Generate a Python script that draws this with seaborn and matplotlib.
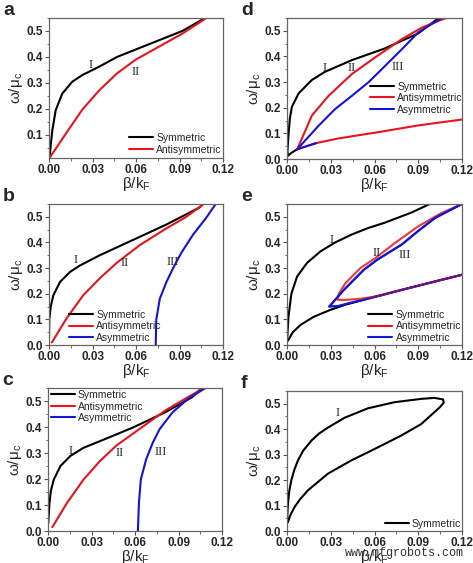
import numpy as np
import pandas as pd
import matplotlib
matplotlib.use("Agg")
import matplotlib.pyplot as plt
from matplotlib.ticker import MultipleLocator, FormatStrFormatter
import seaborn as sns

sns.set_style("ticks")
plt.rcParams['font.family'] = ['Liberation Sans', 'DejaVu Sans']

BLACK = '#000000'
RED = '#e8141c'
BLUE = '#1414d2'

# ---- panel a ----
a_sym_x = [0.0005, 0.0012, 0.0023, 0.0046, 0.0092, 0.016, 0.023, 0.0345, 0.047, 0.0695, 0.092, 0.107]
a_sym_y = [0.015, 0.06, 0.117, 0.194, 0.259, 0.304, 0.33, 0.362, 0.40, 0.45, 0.50, 0.548]
a_anti_x = [0.0007, 0.0115, 0.023, 0.0345, 0.047, 0.060, 0.076, 0.092, 0.108]
a_anti_y = [0.013, 0.103, 0.197, 0.27, 0.337, 0.39, 0.44, 0.49, 0.548]

# ---- panel b ----
b_sym_x = [0.0, 0.0002, 0.0012, 0.003, 0.0076, 0.0145, 0.0213, 0.035, 0.058, 0.081, 0.104, 0.106]
b_sym_y = [0.026, 0.10, 0.15, 0.194, 0.246, 0.285, 0.31, 0.35, 0.41, 0.47, 0.537, 0.55]
b_anti_x = [0.002, 0.012, 0.0236, 0.035, 0.0466, 0.0627, 0.081, 0.0947, 0.1067]
b_anti_y = [0.01, 0.103, 0.194, 0.26, 0.32, 0.39, 0.455, 0.50, 0.55]
b_asym_x = [0.0736, 0.074, 0.0764, 0.081, 0.0856, 0.0913, 0.0993, 0.1085, 0.115]
b_asym_y = [0.0, 0.10, 0.18, 0.246, 0.30, 0.36, 0.43, 0.497, 0.55]

# ---- panel c ----
c_sym_x = [0.0002, 0.001, 0.002, 0.004, 0.0086, 0.0155, 0.0245, 0.036, 0.0586, 0.081, 0.0995, 0.106]
c_sym_y = [0.03, 0.107, 0.155, 0.198, 0.25, 0.289, 0.32, 0.346, 0.398, 0.457, 0.515, 0.55]
c_anti_x = [0.003, 0.013, 0.0245, 0.036, 0.047, 0.063, 0.081, 0.095, 0.1075]
c_anti_y = [0.015, 0.107, 0.198, 0.27, 0.328, 0.392, 0.464, 0.51, 0.55]
c_asym_x = [0.062, 0.0627, 0.064, 0.0677, 0.0723, 0.077, 0.086, 0.097, 0.1086]
c_asym_y = [0.0, 0.107, 0.198, 0.276, 0.34, 0.392, 0.457, 0.51, 0.55]

# ---- panel d ----
d_sym_x = [0.007, 0.003, 0.0005, 0.0003, 0.0011, 0.002, 0.0034, 0.008, 0.017, 0.026, 0.0446, 0.067, 0.090, 0.104]
d_sym_y = [0.038, 0.024, 0.012, 0.03, 0.10, 0.16, 0.204, 0.256, 0.308, 0.34, 0.386, 0.431, 0.49, 0.55]
d_anti_x = [0.007, 0.0171, 0.0286, 0.0446, 0.0606, 0.0789, 0.0926, 0.1104]
d_anti_y = [0.038, 0.17, 0.247, 0.332, 0.397, 0.468, 0.513, 0.553]
d_asym_x = [0.007, 0.0217, 0.033, 0.0446, 0.056, 0.0674, 0.0789, 0.090, 0.106]
d_asym_y = [0.038, 0.13, 0.195, 0.247, 0.30, 0.364, 0.429, 0.494, 0.55]
d_low_x = [0.007, 0.02, 0.035, 0.064, 0.09, 0.12]
d_low_y = [0.038, 0.062, 0.08, 0.106, 0.131, 0.154]

# ---- panel e ----
e_sym_x = [0.0, 0.0005, 0.001, 0.003, 0.0069, 0.0137, 0.0229, 0.033, 0.044, 0.055, 0.067, 0.0855, 0.099]
e_sym_y = [0.013, 0.06, 0.11, 0.20, 0.267, 0.32, 0.365, 0.40, 0.43, 0.455, 0.477, 0.517, 0.553]
e_sym_low_x = [0.0, 0.001, 0.004, 0.0092, 0.0183, 0.0297, 0.04, 0.0617, 0.0787, 0.1016, 0.12]
e_sym_low_y = [0.013, 0.02, 0.05, 0.078, 0.11, 0.137, 0.157, 0.19, 0.215, 0.248, 0.274]
e_anti_x = [0.12, 0.106, 0.090, 0.074, 0.0606, 0.0503, 0.040, 0.0355, 0.0348, 0.040, 0.05, 0.0617, 0.0787, 0.1016, 0.12]
e_anti_y = [0.55, 0.515, 0.463, 0.398, 0.339, 0.30, 0.241, 0.20, 0.176, 0.176, 0.18, 0.19, 0.215, 0.248, 0.274]
e_asym_x = [0.12, 0.1016, 0.090, 0.0787, 0.0617, 0.0526, 0.039, 0.029, 0.035, 0.044, 0.0617, 0.0787, 0.1016, 0.12]
e_asym_y = [0.55, 0.496, 0.445, 0.392, 0.332, 0.293, 0.215, 0.15, 0.152, 0.165, 0.19, 0.215, 0.248, 0.274]

# ---- panel f ----
f_sym_x = [0.0, 0.0003, 0.0007, 0.0015, 0.003, 0.005, 0.0075, 0.011, 0.0167, 0.022, 0.028, 0.0395, 0.0555,
           0.0737, 0.092, 0.101, 0.107, 0.1075, 0.1046, 0.092, 0.078, 0.060, 0.044, 0.028, 0.0144,
           0.009, 0.0053, 0.0025, 0.0007, 0.0]
f_sym_y = [0.03, 0.07, 0.108, 0.155, 0.2, 0.24, 0.277, 0.315, 0.355, 0.383, 0.406, 0.445, 0.482,
           0.506, 0.519, 0.523, 0.517, 0.504, 0.485, 0.42, 0.374, 0.322, 0.277, 0.225, 0.16,
           0.125, 0.095, 0.065, 0.036, 0.03]

roman = {
    'a': [('I', 0.0288, 0.369), ('II', 0.060, 0.343)],
    'b': [('I', 0.0186, 0.331), ('II', 0.052, 0.318), ('III', 0.085, 0.322)],
    'c': [('I', 0.0155, 0.308), ('II', 0.0495, 0.300), ('III', 0.078, 0.305)],
    'd': [('I', 0.0258, 0.355), ('II', 0.0446, 0.355), ('III', 0.076, 0.360)],
    'e': [('I', 0.0305, 0.410), ('II', 0.0615, 0.359), ('III', 0.081, 0.353)],
    'f': [('I', 0.035, 0.465)],
}

fig = plt.figure(figsize=(4.73, 5.63), dpi=100)
W, H = 473, 563
boxes = {  # left, top, right, bottom in pixels
    'a': (49, 18, 223, 158), 'd': (287, 18, 462, 159),
    'b': (49, 204, 223, 345), 'e': (287, 204, 462, 345),
    'c': (48, 388, 222, 531), 'f': (287, 391, 462, 531),
}
axes = {}
for k, (l, t, r, b) in boxes.items():
    axes[k] = fig.add_axes([l / W, 1 - b / H, (r - l) / W, (b - t) / H])


def line(ax, xs, ys, color, label=None, lw=1.5, alpha=1.0):
    sns.lineplot(x=xs, y=ys, sort=False, estimator=None, color=color, lw=lw,
                 label=label, ax=ax, alpha=alpha)


ax = axes['a']
line(ax, a_sym_x, a_sym_y, BLACK, 'Symmetric')
line(ax, a_anti_x, a_anti_y, RED, 'Antisymmetric')

ax = axes['b']
line(ax, b_sym_x, b_sym_y, BLACK, 'Symmetric')
line(ax, b_anti_x, b_anti_y, RED, 'Antisymmetric')
line(ax, b_asym_x, b_asym_y, BLUE, 'Asymmetric')

ax = axes['c']
line(ax, c_sym_x, c_sym_y, BLACK, 'Symmetric')
line(ax, c_anti_x, c_anti_y, RED, 'Antisymmetric')
line(ax, c_asym_x, c_asym_y, BLUE, 'Asymmetric')

ax = axes['d']
line(ax, d_sym_x, d_sym_y, BLACK, 'Symmetric')
line(ax, d_anti_x, d_anti_y, RED, 'Antisymmetric')
line(ax, d_asym_x, d_asym_y, BLUE, 'Asymmetric')
line(ax, d_low_x, d_low_y, RED)
line(ax, d_low_x[:2], d_low_y[:2], BLUE)

ax = axes['e']
line(ax, e_sym_low_x, e_sym_low_y, BLACK)
line(ax, e_sym_x, e_sym_y, BLACK, 'Symmetric')
line(ax, e_asym_x, e_asym_y, BLUE)
line(ax, e_anti_x, e_anti_y, RED, 'Antisymmetric', alpha=0.85)
line(ax, e_asym_x[:8], e_asym_y[:8], BLUE, 'Asymmetric')
line(ax, e_asym_x[7:], e_asym_y[7:], BLUE, alpha=0.5)

ax = axes['f']
line(ax, f_sym_x, f_sym_y, BLACK, 'Symmetric')

legend_pos = {
    'a': dict(loc='lower right', bbox_to_anchor=(1.03, -0.02)),
    'b': dict(loc='lower left', bbox_to_anchor=(0.08, -0.03)),
    'c': dict(loc='upper left', bbox_to_anchor=(-0.02, 1.03)),
    'd': dict(loc='lower left', bbox_to_anchor=(0.44, 0.27)),
    'e': dict(loc='lower right', bbox_to_anchor=(1.03, -0.03)),
    'f': dict(loc='lower right', bbox_to_anchor=(1.03, -0.03)),
}

for k, ax in axes.items():
    ax.set_xlim(0, 0.12)
    ax.set_ylim(0.01 if k == 'a' else 0.0, 0.55)
    ax.xaxis.set_major_locator(MultipleLocator(0.03))
    ax.xaxis.set_minor_locator(MultipleLocator(0.015))
    ax.yaxis.set_major_locator(MultipleLocator(0.1))
    ax.yaxis.set_minor_locator(MultipleLocator(0.05))
    ax.xaxis.set_major_formatter(FormatStrFormatter('%.2f'))
    ax.yaxis.set_major_formatter(FormatStrFormatter('%.1f'))
    ax.tick_params(which='major', direction='out', length=3, width=0.8,
                   labelsize=8.5, pad=1.5, color='#555555')
    ax.tick_params(which='minor', direction='out', length=1.8, width=0.6, color='#555555')
    for lab in ax.get_xticklabels() + ax.get_yticklabels():
        lab.set_fontweight('bold')
    for s in ax.spines.values():
        s.set_visible(True)
        s.set_color('#666666')
        s.set_linewidth(0.9)
    ax.set_xlabel('β/k$_\\mathregular{F}$', fontsize=11, labelpad=-1)
    ax.set_ylabel('ω/μ$_\\mathregular{c}$', fontsize=11, labelpad=1)
    for txt, x, y in roman[k]:
        ax.text(x, y, txt, family='Liberation Serif', fontsize=9, ha='center', va='center')
    leg = ax.legend(frameon=False, fontsize=7.5, handlelength=2.3, handletextpad=0.3,
                    labelspacing=0.15, borderaxespad=0.2, **legend_pos[k])
    for h in leg.get_lines():
        h.set_linewidth(1.5)
        h.set_alpha(1.0)

# panel letters
for k, (l, t, r, b) in boxes.items():
    fig.text((l - 46) / W, 1 - (t - 3) / H, k, fontsize=14, fontweight='bold',
             ha='left', va='baseline')

fig.text(345 / W, 1 - 553 / H, 'www.mfgrobots.com', family='Liberation Mono',
         fontsize=8.5, color='#333333', ha='left', va='center')

fig.savefig('out.png', dpi=100)
